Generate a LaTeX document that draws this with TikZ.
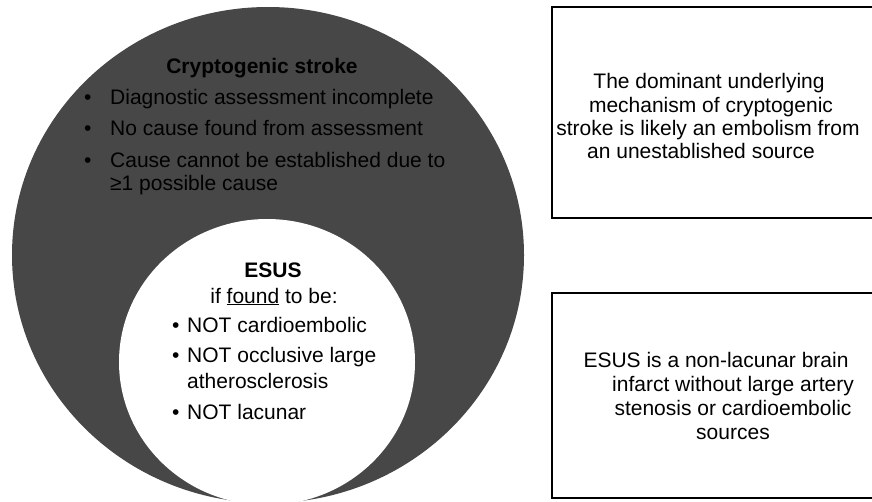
\documentclass[tikz,border=0pt]{standalone}
\usepackage{fontspec}
\setmainfont{Liberation Sans}
\definecolor{darkfill}{HTML}{474747}
\begin{document}
\begin{tikzpicture}[x=1pt,y=-1pt,
  txt/.style={inner sep=0pt,font=\fontsize{21}{24}\selectfont,text=black},
  boxstyle/.style={draw=black,line width=2.5pt}]
\useasboundingbox (0,0) rectangle (872,501);
\begin{scope}
\clip (0,0) rectangle (872,501);
\fill[darkfill] (268,255) ellipse [x radius=256, y radius=248];
\fill[white] (267,362) ellipse [x radius=148, y radius=143];
\draw[boxstyle] (552,7) rectangle (885,218);
\draw[boxstyle] (552,293) rectangle (885,498);
\end{scope}
% outer circle text
\node[txt,anchor=base,font=\fontsize{21}{24}\selectfont\bfseries] (ct) at (262,73) {Cryptogenic stroke};
\node[txt,anchor=base west] (b1) at (84,104) {•};
\node[txt,anchor=base west] (t1) at (110,104) {Diagnostic assessment incomplete};
\node[txt,anchor=base west] (b2) at (84,135) {•};
\node[txt,anchor=base west] (t2) at (110,135) {No cause found from assessment};
\node[txt,anchor=base west] (b3) at (84,167) {•};
\node[txt,anchor=base west] (t3) at (110,167) {Cause cannot be established due to};
\node[txt,anchor=base west] (t3b) at (110,190) {≥1 possible cause};
% inner circle text
\node[txt,anchor=base,font=\fontsize{21}{24}\selectfont\bfseries] (es) at (273,277) {ESUS};
\node[txt,anchor=base] (if) at (274,303) {if \underline{found} to be:};
\node[txt,anchor=base west] (c1) at (172,332) {•};
\node[txt,anchor=base west] (n1) at (187,332) {NOT cardioembolic};
\node[txt,anchor=base west] (c2) at (172,362) {•};
\node[txt,anchor=base west] (n2) at (187,362) {NOT occlusive large};
\node[txt,anchor=base west] (n2b) at (187,388) {atherosclerosis};
\node[txt,anchor=base west] (c3) at (172,419) {•};
\node[txt,anchor=base west] (n3) at (187,419) {NOT lacunar};
% top box text
\node[txt,anchor=base] (r1) at (709,88) {The dominant underlying};
\node[txt,anchor=base] (r2) at (711,112) {mechanism of cryptogenic};
\node[txt,anchor=base] (r3) at (708,135) {stroke is likely an embolism from};
\node[txt,anchor=base] (r4) at (701,158) {an unestablished source};
% bottom box text
\node[txt,anchor=base] (s1) at (716,367) {ESUS is a non-lacunar brain};
\node[txt,anchor=base] (s2) at (733,391) {infarct without large artery};
\node[txt,anchor=base] (s3) at (733,415) {stenosis or cardioembolic};
\node[txt,anchor=base] (s4) at (733,439) {sources};
\end{tikzpicture}
\end{document}
